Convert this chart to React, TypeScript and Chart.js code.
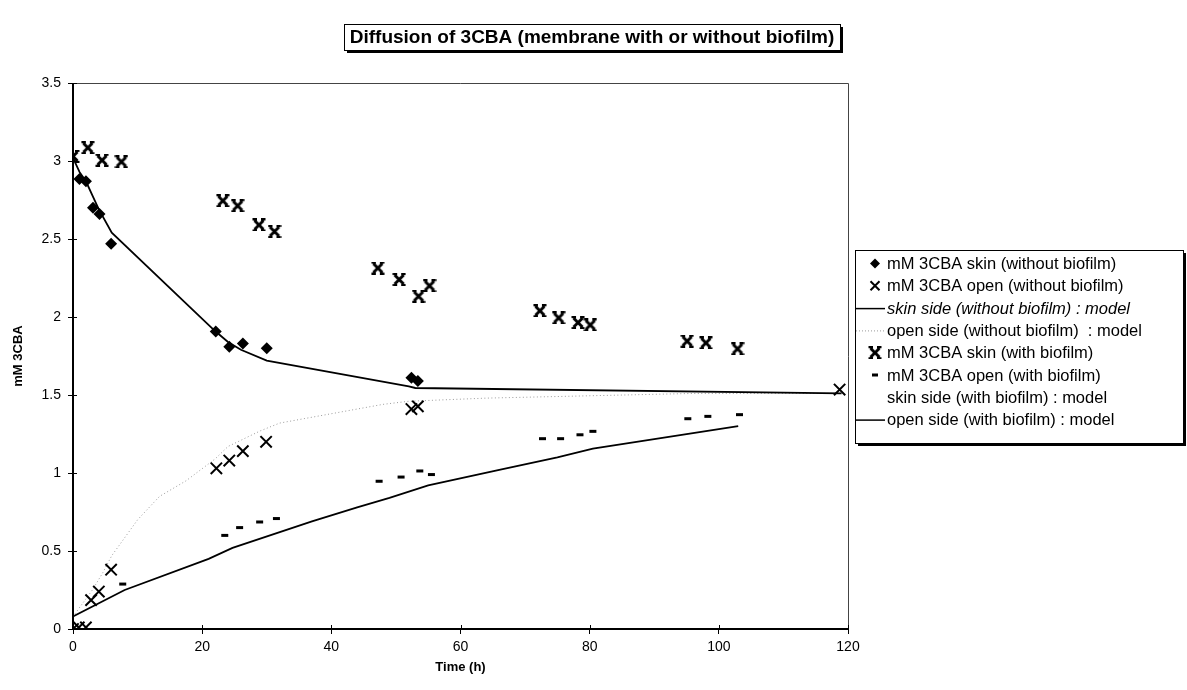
import { useEffect, useRef } from 'react';
import { Chart, registerables } from 'chart.js';

Chart.register(...registerables);

const titleText = 'Diffusion of 3CBA (membrane with or without biofilm)';
const xTitle = 'Time (h)';
const yTitle = 'mM 3CBA';

// mM 3CBA skin (without biofilm)
const skinNoBioT = [1.0, 2.0, 3.1, 4.1, 5.9, 22.1, 24.2, 26.3, 30.0, 52.4, 53.4];
const skinNoBioV = [2.885, 2.87, 2.7, 2.66, 2.47, 1.907, 1.81, 1.83, 1.8, 1.61, 1.59];

// mM 3CBA open (without biofilm)
const openNoBioT = [0, 0.9, 2.0, 2.8, 4.0, 5.9, 22.2, 24.2, 26.3, 29.9, 52.4, 53.4, 118.7];
const openNoBioV = [0, 0.01, 0.01, 0.185, 0.24, 0.38, 1.03, 1.08, 1.14, 1.2, 1.41, 1.427, 1.535];

// skin side (without biofilm) : model
const skinModelNoBioT = [0, 1, 2, 3, 4, 6, 22, 24, 26, 30, 52, 53, 119];
const skinModelNoBioV = [3.02, 2.93, 2.87, 2.78, 2.69, 2.54, 1.91, 1.84, 1.79, 1.72, 1.555, 1.545, 1.51];

// open side (without biofilm) : model
const openModelNoBioT = [0, 3, 4.6, 6, 10, 13.4, 17.5, 22, 24, 29, 32, 40, 48, 52, 64, 96, 119];
const openModelNoBioV = [0.08, 0.25, 0.36, 0.47, 0.7, 0.85, 0.95, 1.09, 1.17, 1.27, 1.32, 1.38, 1.44, 1.46, 1.48, 1.51, 1.51];

// mM 3CBA skin (with biofilm)
const skinBioT = [0, 2.3, 4.5, 7.5, 23.2, 25.5, 28.8, 31.2, 47.2, 50.5, 53.5, 55.2, 72.3, 75.2, 78.2, 80.1, 95.1, 98.0, 102.9];
const skinBioV = [3.03, 3.085, 3.005, 2.995, 2.745, 2.713, 2.59, 2.548, 2.314, 2.24, 2.133, 2.2, 2.04, 1.994, 1.964, 1.949, 1.845, 1.834, 1.796];

// mM 3CBA open (with biofilm)
const openBioT = [7.7, 23.5, 25.8, 28.9, 31.5, 47.4, 50.8, 53.7, 55.5, 72.7, 75.5, 78.5, 80.5, 95.2, 98.3, 103.2];
const openBioV = [0.288, 0.6, 0.65, 0.686, 0.708, 0.947, 0.974, 1.013, 0.99, 1.22, 1.22, 1.245, 1.267, 1.348, 1.363, 1.374];

// skin side (with biofilm) : model  (not visible in the picture)
const skinModelBioT: number[] = [];
const skinModelBioV: number[] = [];

// open side (with biofilm) : model
const openModelBioT = [0, 8, 21, 24.7, 37, 44, 49, 55, 66, 75, 80.5, 103];
const openModelBioV = [0.08, 0.25, 0.45, 0.52, 0.69, 0.78, 0.84, 0.92, 1.02, 1.1, 1.156, 1.3];

const legendLabels = [
  'mM 3CBA skin (without biofilm)',
  'mM 3CBA open (without biofilm)',
  'skin side (without biofilm) : model',
  'open side (without biofilm)  : model',
  'mM 3CBA skin (with biofilm)',
  'mM 3CBA open (with biofilm)',
  'skin side (with biofilm) : model',
  'open side (with biofilm) : model',
];

const xTicks = { min: 0, max: 120, step: 20 };
const yTicks = { min: 0, max: 3.5, step: 0.5 };

const FONT = '"Liberation Sans", Arial, Helvetica, sans-serif';

function pts(t: number[], v: number[]) {
  return t.map((x, i) => ({ x, y: v[i] }));
}

function makeStar(): HTMLCanvasElement {
  const c = document.createElement('canvas');
  c.width = 14;
  c.height = 13;
  const g = c.getContext('2d')!;
  g.strokeStyle = '#000';
  g.lineWidth = 3;
  g.beginPath();
  g.moveTo(2.5, 2);
  g.lineTo(11.5, 11);
  g.moveTo(11.5, 2);
  g.lineTo(2.5, 11);
  g.stroke();
  g.lineWidth = 2;
  g.beginPath();
  g.moveTo(0.5, 1);
  g.lineTo(5, 1);
  g.moveTo(9, 1);
  g.lineTo(13.5, 1);
  g.moveTo(0.5, 12);
  g.lineTo(5, 12);
  g.moveTo(9, 12);
  g.lineTo(13.5, 12);
  g.stroke();
  return c;
}

export default function App() {
  const ref = useRef<HTMLCanvasElement>(null);

  useEffect(() => {
    document.body.style.margin = '0';
    const canvas = ref.current!;
    const star = makeStar();

    const decor = {
      id: 'decor',
      afterDraw(chart: any) {
        const ctx = chart.ctx as CanvasRenderingContext2D;
        const a = chart.chartArea;
        const xs = chart.scales.x;
        const ys = chart.scales.y;
        ctx.save();
        // plot frame
        ctx.strokeStyle = '#444';
        ctx.lineWidth = 1;
        ctx.beginPath();
        ctx.moveTo(a.left, a.top + 0.5);
        ctx.lineTo(a.right + 0.5, a.top + 0.5);
        ctx.lineTo(a.right + 0.5, a.bottom);
        ctx.stroke();
        ctx.strokeStyle = '#000';
        ctx.lineWidth = 2;
        ctx.beginPath();
        ctx.moveTo(a.left, a.top);
        ctx.lineTo(a.left, a.bottom);
        ctx.lineTo(a.right + 1, a.bottom);
        ctx.stroke();
        // inner tick marks
        ctx.lineWidth = 1;
        ys.ticks.forEach((t: any) => {
          const y = Math.round(ys.getPixelForValue(t.value)) + 0.5;
          ctx.beginPath();
          ctx.moveTo(a.left, y);
          ctx.lineTo(a.left + 4, y);
          ctx.stroke();
        });
        xs.ticks.forEach((t: any) => {
          const x = Math.round(xs.getPixelForValue(t.value)) + 0.5;
          ctx.beginPath();
          ctx.moveTo(x, a.bottom);
          ctx.lineTo(x, a.bottom - 4);
          ctx.stroke();
        });

        // title box
        ctx.font = `bold 19px ${FONT}`;
        const tw = ctx.measureText(titleText).width;
        const tcx = 592;
        const tcy = 37;
        const bx = Math.round(tcx - tw / 2 - 6);
        const bw = Math.round(tw + 12);
        const by = 24;
        const bh = 26;
        ctx.fillStyle = '#000';
        ctx.fillRect(bx + 3, by + 3, bw, bh);
        ctx.fillStyle = '#fff';
        ctx.fillRect(bx, by, bw, bh);
        ctx.strokeStyle = '#000';
        ctx.lineWidth = 1;
        ctx.strokeRect(bx + 0.5, by + 0.5, bw, bh);
        ctx.fillStyle = '#000';
        ctx.textAlign = 'center';
        ctx.textBaseline = 'middle';
        ctx.fillText(titleText, tcx, tcy + 1);

        // legend box
        const L = 855, T = 250, R = 1183, B = 443;
        ctx.fillStyle = '#000';
        ctx.fillRect(L + 3, T + 3, R - L, B - T);
        ctx.fillStyle = '#fff';
        ctx.fillRect(L, T, R - L, B - T);
        ctx.strokeStyle = '#000';
        ctx.strokeRect(L + 0.5, T + 0.5, R - L, B - T);

        const row0 = 263.5;
        const step = 22.3;
        const symX = L + 20;
        const textX = L + 32;
        ctx.textAlign = 'left';
        ctx.textBaseline = 'middle';
        legendLabels.forEach((lab, i) => {
          const y = row0 + i * step;
          ctx.save();
          ctx.strokeStyle = '#000';
          ctx.fillStyle = '#000';
          if (i === 0) {
            ctx.beginPath();
            ctx.moveTo(symX, y - 5);
            ctx.lineTo(symX + 5, y);
            ctx.lineTo(symX, y + 5);
            ctx.lineTo(symX - 5, y);
            ctx.closePath();
            ctx.fill();
          } else if (i === 1) {
            ctx.lineWidth = 2;
            ctx.beginPath();
            ctx.moveTo(symX - 4.5, y - 4.5);
            ctx.lineTo(symX + 4.5, y + 4.5);
            ctx.moveTo(symX + 4.5, y - 4.5);
            ctx.lineTo(symX - 4.5, y + 4.5);
            ctx.stroke();
          } else if (i === 2 || i === 7) {
            ctx.lineWidth = 1.5;
            ctx.beginPath();
            ctx.moveTo(L + 1, y + 0.5);
            ctx.lineTo(L + 30, y + 0.5);
            ctx.stroke();
          } else if (i === 3) {
            ctx.strokeStyle = '#999';
            ctx.lineWidth = 1;
            ctx.setLineDash([1, 2]);
            ctx.beginPath();
            ctx.moveTo(L + 1, y + 0.5);
            ctx.lineTo(L + 30, y + 0.5);
            ctx.stroke();
          } else if (i === 4) {
            ctx.drawImage(star, symX - 7, y - 6.5);
          } else if (i === 5) {
            ctx.lineWidth = 3;
            ctx.beginPath();
            ctx.moveTo(symX - 3, y);
            ctx.lineTo(symX + 3, y);
            ctx.stroke();
          }
          ctx.restore();
          ctx.font = (i === 2 ? 'italic ' : '') + `16.5px ${FONT}`;
          ctx.fillStyle = '#000';
          ctx.fillText(lab, textX, y + 1);
        });
        ctx.restore();
      },
    };

    const chart = new Chart(canvas, {
      type: 'scatter',
      data: {
        datasets: [
          {
            label: legendLabels[0],
            data: pts(skinNoBioT, skinNoBioV),
            pointStyle: 'rectRot',
            pointRadius: 6,
            backgroundColor: '#000',
            borderColor: '#000',
            borderWidth: 0,
            showLine: false,
          },
          {
            label: legendLabels[1],
            data: pts(openNoBioT, openNoBioV),
            pointStyle: 'crossRot',
            pointRadius: 8,
            borderColor: '#000',
            backgroundColor: '#000',
            borderWidth: 2,
            showLine: false,
          },
          {
            label: legendLabels[2],
            data: pts(skinModelNoBioT, skinModelNoBioV),
            showLine: true,
            borderColor: '#000',
            borderWidth: 1.8,
            pointRadius: 0,
            tension: 0,
          },
          {
            label: legendLabels[3],
            data: pts(openModelNoBioT, openModelNoBioV),
            showLine: true,
            borderColor: '#9a9a9a',
            borderWidth: 1,
            borderDash: [1, 2.5],
            pointRadius: 0,
            tension: 0,
          },
          {
            label: legendLabels[4],
            data: pts(skinBioT, skinBioV),
            pointStyle: star,
            pointRadius: 7,
            borderColor: '#000',
            backgroundColor: '#000',
            showLine: false,
          },
          {
            label: legendLabels[5],
            data: pts(openBioT, openBioV),
            pointStyle: 'line',
            pointRadius: 3.5,
            borderColor: '#000',
            borderWidth: 3,
            showLine: false,
          },
          {
            label: legendLabels[6],
            data: pts(skinModelBioT, skinModelBioV),
            showLine: true,
            borderColor: 'rgba(0,0,0,0)',
            pointRadius: 0,
          },
          {
            label: legendLabels[7],
            data: pts(openModelBioT, openModelBioV),
            showLine: true,
            borderColor: '#000',
            borderWidth: 1.8,
            pointRadius: 0,
            tension: 0,
          },
        ],
      },
      options: {
        responsive: false,
        animation: false,
        layout: { padding: { top: 83, right: 339, bottom: 0, left: 0 } },
        plugins: {
          legend: { display: false },
          title: { display: false },
          tooltip: { enabled: false },
        },
        scales: {
          x: {
            type: 'linear',
            min: xTicks.min,
            max: xTicks.max,
            ticks: {
              stepSize: xTicks.step,
              color: '#000',
              font: { family: FONT, size: 14 },
              padding: 5,
              maxRotation: 0,
            },
            grid: { drawOnChartArea: false, drawTicks: true, tickLength: 5, color: '#000' },
            border: { display: false },
            title: {
              display: true,
              text: xTitle,
              color: '#000',
              font: { family: FONT, size: 13, weight: 'bold' },
              padding: { top: 0, bottom: 15 },
            },
            afterFit: (s: any) => {
              s.height = 61;
            },
          },
          y: {
            type: 'linear',
            min: yTicks.min,
            max: yTicks.max,
            ticks: {
              stepSize: yTicks.step,
              color: '#000',
              font: { family: FONT, size: 14 },
              padding: 7,
              callback: (v: any) => String(Number(v)),
            },
            grid: { drawOnChartArea: false, drawTicks: true, tickLength: 5, color: '#000' },
            border: { display: false },
            title: {
              display: true,
              text: yTitle,
              color: '#000',
              font: { family: FONT, size: 13, weight: 'bold' },
              padding: { top: 11, bottom: 0 },
            },
            afterFit: (s: any) => {
              s.width = 73;
            },
          },
        },
      },
      plugins: [decor],
    } as any);

    return () => chart.destroy();
  }, []);

  return (
    <div style={{ width: 1187, height: 690, background: '#fff' }}>
      <canvas ref={ref} width={1187} height={690} style={{ display: 'block' }} />
    </div>
  );
}
